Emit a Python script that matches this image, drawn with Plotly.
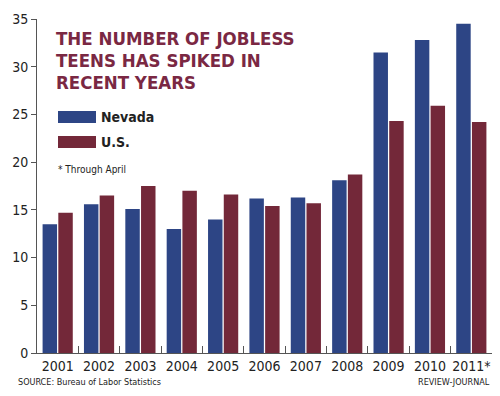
import plotly.graph_objects as go

years = ["2001", "2002", "2003", "2004", "2005", "2006", "2007", "2008", "2009", "2010", "2011*"]
nevada = [13.5, 15.6, 15.1, 13.0, 14.0, 16.2, 16.3, 18.1, 31.5, 32.8, 34.5]
us = [14.7, 16.5, 17.5, 17.0, 16.6, 15.4, 15.7, 18.7, 24.3, 25.9, 24.2]
y_ticks = [0, 5, 10, 15, 20, 25, 30, 35]
title_lines = ["THE NUMBER OF JOBLESS", "TEENS HAS SPIKED IN", "RECENT YEARS"]

BLUE = "#2d4585"
RED = "#732839"
TITLE = "#7a2843"
FONT = "DejaVu Sans Condensed, Liberation Sans Narrow, Roboto, sans-serif"

# the page adds an 8px body margin; work in page pixels and shift
OFF = 8
W, H = 500 - OFF, 396 - OFF
PL, PR, PT, PB = 37, 492, 19, 353  # plot area in page pixels
L, T = PL - OFF, PT - OFF
R, B = W - (PR - OFF), H - (PB - OFF)
PW, PH = PR - PL, PB - PT


def px(x):
    return (x - PL) / PW


def py(y):
    return (PB - y) / PH


fig = go.Figure()
fig.add_trace(go.Bar(name="Nevada", x=years, y=nevada, marker=dict(color=BLUE, line=dict(width=0))))
fig.add_trace(go.Bar(name="U.S.", x=years, y=us, marker=dict(color=RED, line=dict(width=0))))

fig.update_layout(
    width=W, height=H,
    margin=dict(l=L, r=R, t=T, b=B, autoexpand=False),
    paper_bgcolor="white", plot_bgcolor="white",
    barmode="group", bargap=0.24, bargroupgap=0.08,
    showlegend=False,
    font=dict(family=FONT, color="#222"),
)
fig.update_xaxes(
    type="category", tickson="boundaries", ticks="inside", ticklen=7, tickcolor="#555",
    showline=True, linecolor="#555", linewidth=1, showgrid=False, tickangle=0, automargin=False,
    tickfont=dict(size=14, color="#222", family=FONT),
)
fig.update_yaxes(
    range=[0, 35], tickvals=y_ticks, ticks="outside", ticklen=5, tickcolor="#555",
    showline=True, linecolor="#555", linewidth=1, showgrid=False, zeroline=False, automargin=False,
    tickfont=dict(size=14, color="#222", family=FONT),
)

for i, line in enumerate(title_lines):
    fig.add_annotation(
        text=f"<b>{line}</b>", xref="paper", yref="paper",
        x=px(54), y=py(38.5 + i * 22), xanchor="left", yanchor="middle",
        showarrow=False, align="left", font=dict(size=18.5, color=TITLE, family=FONT),
    )
# custom legend
for i, (nm, col) in enumerate([("Nevada", BLUE), ("U.S.", RED)]):
    ytop = 111 + i * 25
    fig.add_shape(type="rect", xref="paper", yref="paper",
                  x0=px(58), x1=px(96), y0=py(ytop + 12), y1=py(ytop),
                  fillcolor=col, line=dict(width=0))
    fig.add_annotation(text=f"<b>{nm}</b>", xref="paper", yref="paper",
                       x=px(99), y=py(ytop + 6), xanchor="left", yanchor="middle",
                       showarrow=False, font=dict(size=14, color="#222", family=FONT))
fig.add_annotation(text="* Through April", xref="paper", yref="paper",
                   x=px(56), y=py(169), xanchor="left", yanchor="middle",
                   showarrow=False, font=dict(size=10, color="#222", family=FONT))
fig.add_annotation(text="SOURCE: Bureau of Labor Statistics", xref="paper", yref="paper",
                   x=px(16), y=py(382), xanchor="left", yanchor="middle",
                   showarrow=False, font=dict(size=9, color="#222", family=FONT))
fig.add_annotation(text="REVIEW-JOURNAL", xref="paper", yref="paper",
                   x=px(492), y=py(382), xanchor="right", yanchor="middle",
                   showarrow=False, font=dict(size=9, color="#222", family=FONT))

fig.write_html("out.html")
